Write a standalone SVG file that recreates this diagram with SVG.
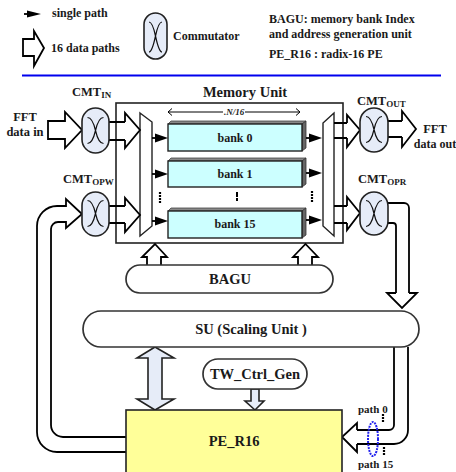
<svg xmlns="http://www.w3.org/2000/svg" width="456" height="472" viewBox="0 0 456 472">
<style>
text{font-family:"Liberation Serif","Times New Roman",serif;font-weight:bold;fill:#1a1a1a;font-size:12px}
.t14{font-size:14.500px}
.t13{font-size:12.500px}
.c{text-anchor:middle}
.sub{font-size:9px}
.ln{fill:none;stroke:#000;stroke-width:1.800}
.ar{fill:#fff;stroke:#000;stroke-width:1.800;stroke-linejoin:miter}
.lt{fill:#e6ecf8;stroke:#222;stroke-width:1.600}
.x{fill:none;stroke:#111;stroke-width:1.200}
.bank{fill:#ccffff;stroke:#222;stroke-width:1.400}
.top{fill:#888;stroke:#444;stroke-width:.8}
.side{fill:#666;stroke:#333;stroke-width:.8}
.pill{fill:#fff;stroke:#333;stroke-width:1.700}
.dot{stroke:#000;stroke-width:2.200;stroke-dasharray:2 1;fill:none}
</style>
<defs>
<path id="xg" class="x" d="M5.500 9.500C9.500 9.500 12 16 13.500 22.500C15 29 17.500 35.500 21.500 35.500M21.500 9.500C17.500 9.500 15 16 13.500 22.500C12 29 9.500 35.500 5.500 35.500"/>
<g id="sa"><path d="M0 0H5" stroke="#000" stroke-width="1.800"/><path d="M3 -4.500L16 0L3 4.500Z" fill="#000"/></g>
</defs>

<g id="legend">
<g transform="translate(24,14)"><path d="M0 0H5" stroke="#000" stroke-width="1.800"/><path d="M3 -3.500L17 0L3 3.500Z" fill="#000"/></g>
<text x="52" y="17">single path</text>
<path class="ar" d="M23 39H34V31L44 48L34 66V56H23Z"/>
<text x="51" y="52">16 data paths</text>
<g><rect class="lt" x="144" y="13" width="23" height="46" rx="11.500"/><path class="x" d="M149 22C152 22 154 29 155.500 36C157 43 159 52 162 52M162 22C159 22 157 29 155.500 36C154 43 152 52 149 52"/></g>
<text x="173" y="40">Commutator</text>
<text x="269" y="23">BAGU: memory bank Index</text>
<text x="269" y="38">and address generation unit</text>
<text x="269" y="58">PE_R16 : radix-16 PE</text>
<path d="M22 75.500H441" stroke="#0000ee" stroke-width="2"/>
</g>

<g id="memory-unit">
<rect x="116" y="103" width="227" height="140" fill="#fff" stroke="#222" stroke-width="1.600"/>
<text class="t14 c" x="245" y="97">Memory Unit</text>
<path d="M168 112H223M245 112H300M172 108.500L168 112L172 115.500M296 108.500L300 112L296 115.500" fill="none" stroke="#000" stroke-width="1"/>
<text x="224" y="115" style="font-size:9px;font-style:italic">.N/16</text>
</g>

<g id="bank-0"><path class="top" d="M168 124L171 121H306L302 124Z"/><path class="side" d="M302 124L306 121V148L302 151Z"/><rect class="bank" x="168" y="124" width="134" height="27"/><text class="c" x="235" y="142">bank 0</text></g>
<g id="bank-1"><path class="top" d="M168 161L171 158H306L302 161Z"/><path class="side" d="M302 161L306 158V184L302 187Z"/><rect class="bank" x="168" y="161" width="134" height="26"/><text class="c" x="235" y="178">bank 1</text></g>
<g id="bank-15"><path class="top" d="M168 211L171 208H306L302 211Z"/><path class="side" d="M302 211L306 208V235L302 238Z"/><rect class="bank" x="168" y="211" width="134" height="27"/><text class="c" x="235" y="228">bank 15</text></g>

<g id="mux-in"><path d="M140 113L152 122V226L140 236Z" fill="#fff" stroke="#222" stroke-width="1.400"/></g>
<g id="mux-out"><path d="M334 113L323 123V226L334 236Z" fill="#fff" stroke="#222" stroke-width="1.400"/></g>

<g id="connectors">
<use href="#sa" x="152" y="138"/><use href="#sa" x="152" y="174"/><use href="#sa" x="152" y="221"/>
<use href="#sa" x="306" y="138"/><use href="#sa" x="306" y="173"/><use href="#sa" x="306" y="220"/>
<path class="dot" d="M160 192V204M312 191V203"/>
<path d="M237 192V201" stroke="#000" stroke-width="2" stroke-dasharray="5 1" fill="none"/>

<path class="ar" d="M48 121H65V112L82 130L65 148V139H48Z"/>
<path class="ln" d="M109 122H125M109 140H125"/><path class="ar" d="M125 122V113L140 130L125 148V140"/>
<path class="ln" d="M109 206H125M109 223H125"/><path class="ar" d="M125 206V198L140 215L125 232V223"/>
<path class="ln" d="M334 123H347M334 138H347"/><path class="ar" d="M347 123V115L360 130L347 147V138"/>
<path class="ln" d="M334 206H347M334 223H347"/><path class="ar" d="M347 206V197L360 213L347 230V223"/>
<path class="ln" d="M388 121H402M388 137H402"/><path class="ar" d="M402 121V111L416 129L402 147V137"/>

<path class="ar" d="M126 452H57A20 20 0 0 1 37 432V226A20 20 0 0 1 57 206H66V199L82 214L66 228V222H58A7 7 0 0 0 51 229V425A12 12 0 0 0 63 437H126" style="fill:none"/>

<path class="ln" d="M388 203H404A5 5 0 0 1 409 208V293M388 223H393A3 3 0 0 1 396 226V293"/>
<path class="ar" d="M396 293H387L402 308L417 293H409"/>

<path class="ln" d="M394 347V425A5 5 0 0 1 389 430H357M408 347V430A14 14 0 0 1 394 444H357"/>
<path class="ar" d="M357 430V423L342 437L357 452V444"/>
<ellipse cx="373" cy="439" rx="5" ry="17" fill="none" stroke="#2222ee" stroke-width="2" stroke-dasharray="2 1"/>
<path class="dot" d="M383 414V423M384 447V456"/>

<path class="ar" d="M147 265V257H142L155 244L167 257H161V265"/>
<path class="ar" d="M298 265V257H293L305.500 244L318 257H312V265"/>
<path class="lt" d="M155 347L174 358H162V399H174L155 410L137 399H148V358H137Z"/>
<path class="lt" d="M251 389H259V401H264L255 410L245 401H251Z"/>
</g>

<g id="cmt-in"><rect class="lt" x="82" y="108" width="27" height="45" rx="13.500"/><use href="#xg" x="82" y="108"/><text x="72" y="96" class="t13">CMT<tspan class="sub" dy="2">IN</tspan></text></g>
<g id="cmt-opw"><rect class="lt" x="82" y="192" width="27" height="44" rx="13.500"/><use href="#xg" x="82" y="191"/><text x="63" y="183" class="t13">CMT<tspan class="sub" dy="2">OPW</tspan></text></g>
<g id="cmt-out"><rect class="lt" x="360" y="108" width="28" height="44" rx="14"/><use href="#xg" x="360.500" y="107"/><text x="357" y="105" class="t13">CMT<tspan class="sub" dy="2">OUT</tspan></text></g>
<g id="cmt-opr"><rect class="lt" x="360" y="192" width="28" height="43" rx="14"/><use href="#xg" x="360.500" y="191"/><text x="358" y="183" class="t13">CMT<tspan class="sub" dy="2">OPR</tspan></text></g>

<text class="t13 c" x="25" y="121">FFT</text>
<text class="t13 c" x="25" y="136">data in</text>
<text class="t13 c" x="435" y="133">FFT</text>
<text class="c" x="435" y="148">data out</text>

<g id="bagu"><rect class="pill" x="126" y="265" width="207" height="28" rx="14"/><text class="t14 c" x="230" y="284">BAGU</text></g>
<g id="su"><rect class="pill" x="83" y="311" width="336" height="36" rx="18"/><text class="t14 c" x="251" y="334">SU (Scaling Unit )</text></g>
<g id="tw"><rect class="pill" x="203" y="359" width="104" height="30" rx="15"/><text class="t14 c" x="255" y="379">TW_Ctrl_Gen</text></g>
<g id="pe"><rect x="126" y="410" width="216" height="70" fill="#ffff99" stroke="#222" stroke-width="1.600"/><text class="t14 c" x="234" y="446">PE_R16</text></g>
<text x="358" y="413" style="font-size:11px">path 0</text>
<text x="358" y="468" style="font-size:11px">path 15</text>
</svg>
